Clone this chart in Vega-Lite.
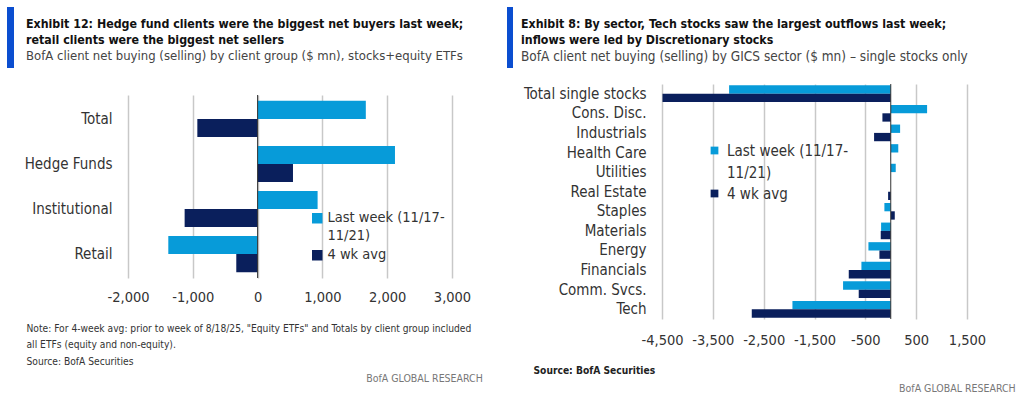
{
  "$schema": "https://vega.github.io/schema/vega-lite/v6.json",
  "background": "white",
  "padding": {"left": 7, "top": 7, "right": 4, "bottom": 4},
  "config": {
    "font": "DejaVu Sans Condensed",
    "view": {"stroke": null},
    "axis": {"domain": false, "ticks": false, "labelFont": "DejaVu Sans Condensed", "labelColor": "#333333"},
    "legend": {"labelFont": "DejaVu Sans Condensed"}
  },
  "resolve": {"scale": {"color": "independent", "yOffset": "independent"}, "legend": {"color": "independent"}},
  "datasets": {
    "clients": [
      {"group": "Total", "series": "Last week (11/17-11/21)", "value": 1670},
      {"group": "Total", "series": "4 wk avg", "value": -930},
      {"group": "Hedge Funds", "series": "Last week (11/17-11/21)", "value": 2120},
      {"group": "Hedge Funds", "series": "4 wk avg", "value": 546},
      {"group": "Institutional", "series": "Last week (11/17-11/21)", "value": 926},
      {"group": "Institutional", "series": "4 wk avg", "value": -1126},
      {"group": "Retail", "series": "Last week (11/17-11/21)", "value": -1378},
      {"group": "Retail", "series": "4 wk avg", "value": -329}
    ],
    "sectors": [
      {"sector": "Total single stocks", "series": "Last week (11/17-11/21)", "value": -3180},
      {"sector": "Total single stocks", "series": "4 wk avg", "value": -4490},
      {"sector": "Cons. Disc.", "series": "Last week (11/17-11/21)", "value": 715},
      {"sector": "Cons. Disc.", "series": "4 wk avg", "value": -164},
      {"sector": "Industrials", "series": "Last week (11/17-11/21)", "value": 184},
      {"sector": "Industrials", "series": "4 wk avg", "value": -328},
      {"sector": "Health Care", "series": "Last week (11/17-11/21)", "value": 148},
      {"sector": "Health Care", "series": "4 wk avg", "value": -4},
      {"sector": "Utilities", "series": "Last week (11/17-11/21)", "value": 98},
      {"sector": "Utilities", "series": "4 wk avg", "value": 0},
      {"sector": "Real Estate", "series": "Last week (11/17-11/21)", "value": 0},
      {"sector": "Real Estate", "series": "4 wk avg", "value": -52},
      {"sector": "Staples", "series": "Last week (11/17-11/21)", "value": -125},
      {"sector": "Staples", "series": "4 wk avg", "value": 79},
      {"sector": "Materials", "series": "Last week (11/17-11/21)", "value": -190},
      {"sector": "Materials", "series": "4 wk avg", "value": -197},
      {"sector": "Energy", "series": "Last week (11/17-11/21)", "value": -439},
      {"sector": "Energy", "series": "4 wk avg", "value": -223},
      {"sector": "Financials", "series": "Last week (11/17-11/21)", "value": -577},
      {"sector": "Financials", "series": "4 wk avg", "value": -826},
      {"sector": "Comm. Svcs.", "series": "Last week (11/17-11/21)", "value": -938},
      {"sector": "Comm. Svcs.", "series": "4 wk avg", "value": -630},
      {"sector": "Tech", "series": "Last week (11/17-11/21)", "value": -1934},
      {"sector": "Tech", "series": "4 wk avg", "value": -2734}
    ],
    "one": [{"k": 1}]
  },
  "spacing": 24,
  "hconcat": [
    {
      "spacing": 10,
      "resolve": {"scale": {"color": "independent", "yOffset": "independent"}, "legend": {"color": "independent"}},
      "title": {"text": "BofA GLOBAL RESEARCH", "orient": "bottom", "anchor": "end", "dx": 12, "font": "DejaVu Sans Condensed", "fontSize": 10.5, "fontWeight": "normal", "color": "#777777", "offset": 8},
      "hconcat": [
        {"data": {"name": "one"}, "width": 7, "height": 61, "mark": {"type": "rect", "color": "#0b4ed0"}, "encoding": {}},
        {
          "spacing": 30,
          "resolve": {"scale": {"color": "independent", "yOffset": "independent"}, "legend": {"color": "independent"}},
          "vconcat": [
            {
              "data": {"name": "one"}, "width": 324, "height": 1,
              "mark": {"type": "rect", "opacity": 0}, "encoding": {},
              "title": {
                "text": ["Exhibit 12: Hedge fund clients were the biggest net buyers last week;", "retail clients were the biggest net sellers"],
                "subtitle": "BofA client net buying (selling) by client group ($ mn), stocks+equity ETFs",
                "orient": "bottom", "anchor": "start", "frame": "group", "dx": -102, "offset": 10,
                "font": "DejaVu Sans Condensed", "fontSize": 12.3, "fontWeight": "bold", "color": "#111111", "lineHeight": 16,
                "subtitleFont": "DejaVu Sans Condensed", "subtitleFontSize": 13, "subtitleColor": "#444444", "subtitlePadding": 4
              }
            },
            {
              "width": 324,
              "height": 183,
              "layer": [
                {
                  "data": {"name": "clients"},
                  "mark": {"type": "bar"},
                  "encoding": {
                    "y": {"field": "group", "type": "nominal", "sort": ["Total", "Hedge Funds", "Institutional", "Retail"],
                          "scale": {"paddingInner": 0.2, "paddingOuter": 0.13},
                          "axis": {"title": null, "labelFontSize": 15, "labelPadding": 16}},
                    "yOffset": {"field": "series", "sort": ["Last week (11/17-11/21)", "4 wk avg"]},
                    "x": {"field": "value", "type": "quantitative",
                          "scale": {"domain": [-2000, 3000], "nice": false, "zero": false},
                          "axis": {"values": [-2000, -1000, 0, 1000, 2000, 3000], "labelExpr": "replace(format(datum.value, ','), '−', '-')",
                                   "labelFlush": false, "labelOverlap": false,
                                   "grid": true, "gridColor": "#c8c8c8", "gridWidth": 1.5, "labelFontSize": 14.5, "labelPadding": 12,
                                   "title": ["Note: For 4-week avg: prior to week of 8/18/25, \"Equity ETFs\" and Totals by client group included", "all ETFs (equity and non-equity).", "Source: BofA Securities"],
                                   "titleX": -102, "titleY": 45, "titleAlign": "left", "titleAnchor": "start", "titleBaseline": "top",
                                   "titleFont": "DejaVu Sans Condensed", "titleFontSize": 10.2, "titleFontWeight": "normal", "titleColor": "#333333", "titleLineHeight": 16.5}},
                    "color": {"field": "series", "type": "nominal",
                              "scale": {"domain": ["Last week (11/17-11/21)", "4 wk avg"], "range": ["#079bd9", "#0a1f5c"]},
                              "legend": {"orient": "none", "legendX": 182, "legendY": 116, "title": null, "symbolType": "square", "symbolSize": 110,
                                         "labelFontSize": 14.5, "labelOffset": 3, "labelColor": "#333333", "rowPadding": 4,
                                         "encode": {"labels": {"update": {"lineHeight": {"value": 18}}}},
                                         "labelExpr": "datum.label == 'Last week (11/17-11/21)' ? ['Last week (11/17-', '11/21)'] : datum.label"}}
                  }
                },
                {"data": {"name": "one"}, "mark": {"type": "rule", "color": "#333333", "strokeWidth": 1}, "encoding": {"x": {"datum": 0}}}
              ]
            }
          ]
        }
      ]
    },
    {
      "spacing": 8,
      "resolve": {"scale": {"color": "independent", "yOffset": "independent"}, "legend": {"color": "independent"}},
      "title": {"text": "BofA GLOBAL RESEARCH", "orient": "bottom", "anchor": "end", "dx": 30, "font": "DejaVu Sans Condensed", "fontSize": 10.5, "fontWeight": "normal", "color": "#777777", "offset": 9},
      "hconcat": [
        {"data": {"name": "one"}, "width": 6, "height": 61, "mark": {"type": "rect", "color": "#0b4ed0"}, "encoding": {}},
        {
          "spacing": 19,
          "resolve": {"scale": {"color": "independent", "yOffset": "independent"}, "legend": {"color": "independent"}},
          "vconcat": [
            {
              "data": {"name": "one"}, "width": 305, "height": 1,
              "mark": {"type": "rect", "opacity": 0}, "encoding": {},
              "title": {
                "text": ["Exhibit 8: By sector, Tech stocks saw the largest outflows last week;", "inflows were led by Discretionary stocks"],
                "subtitle": "BofA client net buying (selling) by GICS sector ($ mn) – single stocks only",
                "orient": "bottom", "anchor": "start", "frame": "group", "dx": -141, "offset": 10,
                "font": "DejaVu Sans Condensed", "fontSize": 12.3, "fontWeight": "bold", "color": "#111111", "lineHeight": 16,
                "subtitleFont": "DejaVu Sans Condensed", "subtitleFontSize": 13.5, "subtitleColor": "#444444", "subtitlePadding": 4
              }
            },
            {
              "width": 305,
              "height": 235,
              "layer": [
                {
                  "data": {"name": "sectors"},
                  "mark": {"type": "bar"},
                  "encoding": {
                    "y": {"field": "sector", "type": "nominal",
                          "sort": ["Total single stocks", "Cons. Disc.", "Industrials", "Health Care", "Utilities", "Real Estate", "Staples", "Materials", "Energy", "Financials", "Comm. Svcs.", "Tech"],
                          "scale": {"paddingInner": 0.15, "paddingOuter": 0.07},
                          "axis": {"title": null, "labelFontSize": 15, "labelPadding": 16}},
                    "yOffset": {"field": "series", "sort": ["Last week (11/17-11/21)", "4 wk avg"]},
                    "x": {"field": "value", "type": "quantitative",
                          "scale": {"domain": [-4500, 1500], "nice": false, "zero": false},
                          "axis": {"values": [-4500, -3500, -2500, -1500, -500, 500, 1500], "labelExpr": "replace(format(datum.value, ','), '−', '-')",
                                   "labelFlush": false, "labelOverlap": false,
                                   "grid": true, "gridColor": "#c8c8c8", "gridWidth": 1.5, "labelFontSize": 14.5, "labelPadding": 14,
                                   "title": "Source: BofA Securities",
                                   "titleX": -129, "titleY": 46, "titleAlign": "left", "titleAnchor": "start", "titleBaseline": "top",
                                   "titleFont": "DejaVu Sans Condensed", "titleFontSize": 10.2, "titleFontWeight": "bold", "titleColor": "#222222"}},
                    "color": {"field": "series", "type": "nominal",
                              "scale": {"domain": ["Last week (11/17-11/21)", "4 wk avg"], "range": ["#079bd9", "#0a1f5c"]},
                              "legend": {"orient": "none", "legendX": 45, "legendY": 59, "title": null, "symbolType": "square", "symbolSize": 60,
                                         "labelFontSize": 15, "labelOffset": 5, "labelColor": "#333333", "rowPadding": 5,
                                         "encode": {"labels": {"update": {"lineHeight": {"value": 22}}}},
                                         "labelExpr": "datum.label == 'Last week (11/17-11/21)' ? ['Last week (11/17-', '11/21)'] : datum.label"}}
                  }
                },
                {"data": {"name": "one"}, "mark": {"type": "rule", "color": "#333333", "strokeWidth": 1}, "encoding": {"x": {"datum": 0}}}
              ]
            }
          ]
        }
      ]
    }
  ]
}
